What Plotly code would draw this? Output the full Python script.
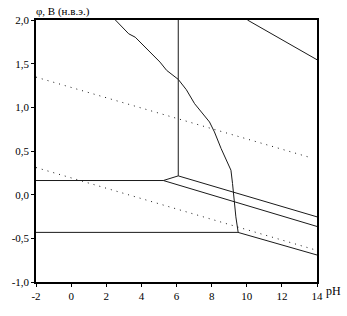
import plotly.graph_objects as go

# Data (pH, potential in V)
h_upper_ph = [-2, 5.25]
h_upper_phi = [0.162, 0.162]
short_ph = [5.25, 6.1]
short_phi = [0.162, 0.215]
vert_ph = [6.1, 6.1]
vert_phi = [0.215, 2.0]
slant1_ph = [6.1, 14]
slant1_phi = [0.215, -0.254]
slant2_ph = [5.25, 14]
slant2_phi = [0.162, -0.364]
h_lower_ph = [-2, 9.5]
h_lower_phi = [-0.432, -0.432]
slant3_ph = [9.5, 14]
slant3_phi = [-0.432, -0.691]
topright_ph = [10.04, 14]
topright_phi = [2.0, 1.545]
curve_ph = [2.52, 3.28, 3.65, 5.06, 5.44, 6.10, 6.56, 7.03, 7.88, 8.16, 8.54, 9.10, 9.19, 9.28, 9.38, 9.51]
curve_phi = [2.00, 1.842, 1.803, 1.518, 1.423, 1.320, 1.202, 1.042, 0.832, 0.718, 0.528, 0.280, 0.128, -0.063, -0.254, -0.429]
o2_ph = [-2, 13.5]
o2_phi = [1.346, 0.432]
h2_ph = [-2, 13.8]
h2_phi = [0.311, -0.626]

x_ticks = [-2, 0, 2, 4, 6, 8, 10, 12, 14]
x_labels = ["-2", "0", "2", "4", "6", "8", "10", "12", "14"]
y_ticks = [-1.0, -0.5, 0.0, 0.5, 1.0, 1.5, 2.0]
y_labels = ["-1,0", "-0,5", "0,0", "0,5", "1,0", "1,5", "2,0"]

fig = go.Figure()
solid = [
    (h_upper_ph, h_upper_phi), (short_ph, short_phi), (vert_ph, vert_phi),
    (slant1_ph, slant1_phi), (slant2_ph, slant2_phi), (h_lower_ph, h_lower_phi),
    (slant3_ph, slant3_phi), (topright_ph, topright_phi), (curve_ph, curve_phi),
]
for xs, ys in solid:
    fig.add_trace(go.Scatter(x=xs, y=ys, mode="lines",
                             line=dict(color="#1a1a1a", width=1), showlegend=False))
for xs, ys in [(o2_ph, o2_phi), (h2_ph, h2_phi)]:
    fig.add_trace(go.Scatter(x=xs, y=ys, mode="lines",
                             line=dict(color="#1a1a1a", width=1, dash="1px,5px"), showlegend=False))

font = dict(family="Liberation Serif, Times New Roman, serif", size=11, color="black")
fig.update_layout(
    width=347, height=316,
    margin=dict(l=33, r=30, t=19.5, b=34),
    paper_bgcolor="white", plot_bgcolor="white",
    font=font,
    xaxis=dict(range=[-2, 14], tickvals=x_ticks, ticktext=x_labels,
               showgrid=False, zeroline=False, showline=True, linecolor="black",
               linewidth=1.5, mirror=True, ticks="outside", ticklen=3,
               tickcolor="black"),
    yaxis=dict(range=[-1.0, 2.0], tickvals=y_ticks, ticktext=y_labels,
               showgrid=False, zeroline=False, showline=True, linecolor="black",
               linewidth=1.5, mirror=True, ticks="outside", ticklen=3,
               tickcolor="black"),
    annotations=[
        dict(text="φ, В (н.в.э.)", xref="paper", yref="paper", x=0, y=1,
             xanchor="left", yanchor="bottom", showarrow=False, xshift=-2,
             font=dict(family="Liberation Serif, serif", size=11)),
        dict(text="pH", xref="paper", yref="paper", x=1, y=0,
             xanchor="left", yanchor="top", showarrow=False, xshift=7, yshift=0,
             font=dict(family="Liberation Serif, serif", size=12)),
    ],
)
fig.write_html("out.html")
